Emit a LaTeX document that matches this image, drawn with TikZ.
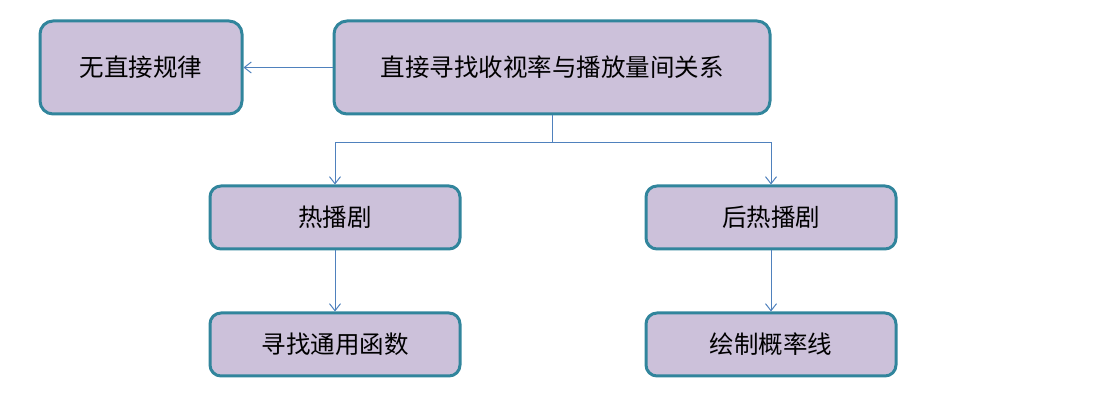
\documentclass[tikz,border=0pt]{standalone}
\usepackage{fontspec}
\newfontfamily\cjk{Noto Sans CJK SC}
\usetikzlibrary{positioning, arrows.meta}
\definecolor{boxfill}{HTML}{CCC1DA}
\definecolor{boxline}{HTML}{31859C}
\definecolor{linkblue}{HTML}{4F81BD}

\begin{document}
\begin{tikzpicture}[x=1pt, y=1pt, font=\cjk\fontsize{24.5}{27}\selectfont,
  main/.style = {draw=boxline, fill=boxfill, line width=3pt, rounded corners=11pt, minimum width=250pt, minimum height=63pt, inner sep=0pt},
  link/.style = {draw=linkblue, line width=1pt, -{Straight Barb[length=7pt, width=11pt]}}]
\useasboundingbox (0,0) rectangle (1103,403);

\node[main, minimum width=436pt, minimum height=93pt, rounded corners=13pt] (top) at (552,335.5) {直接寻找收视率与播放量间关系};
\node[main, minimum width=202pt, minimum height=93pt, rounded corners=13pt] (rule) [left=89pt of top] {无直接规律};
\node[main] (hot) at (335,185.5) {热播剧};
\node[main] (post) [right=183pt of hot] {后热播剧};
\node[main] (func) [below=61pt of hot] {寻找通用函数};
\node[main] (prob) [below=61pt of post] {绘制概率线};

\draw[link] (top) -- (rule);
\draw[link] (top.south) -- ++(0,-27) -| (hot.north);
\draw[link] (top.south) -- ++(0,-27) -| (post.north);
\draw[link] (hot) -- (func);
\draw[link] (post) -- (prob);
\end{tikzpicture}
\end{document}
